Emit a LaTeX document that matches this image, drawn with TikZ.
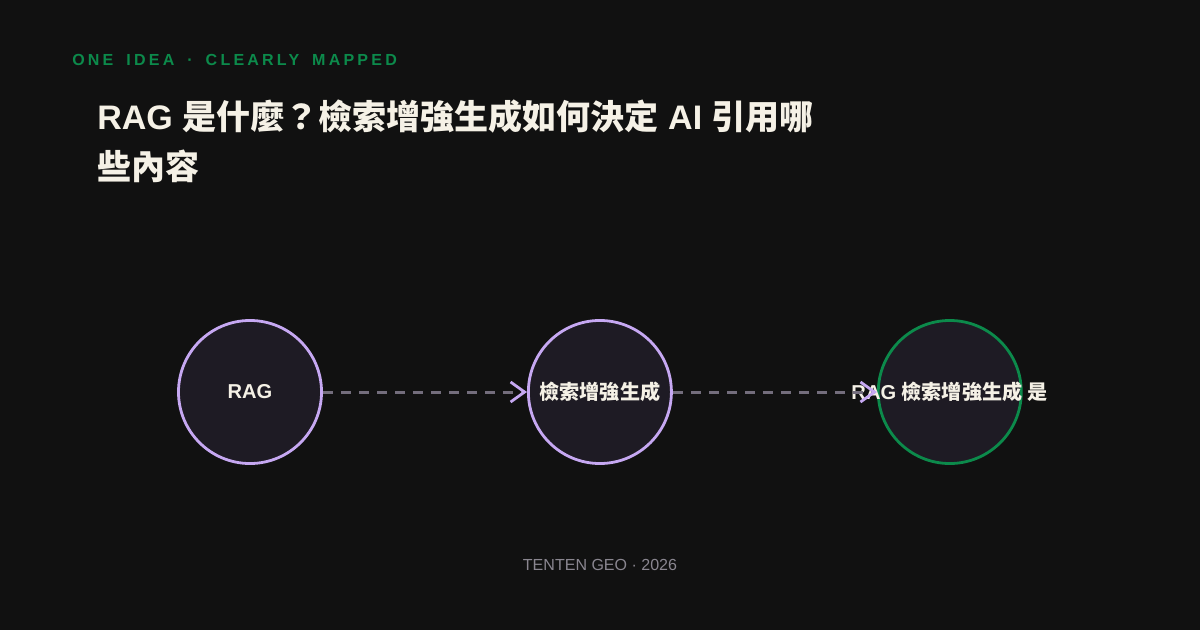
\documentclass[tikz,border=0pt]{standalone}
\usepackage{fontspec}
\setmainfont{Liberation Sans}
\newfontfamily\cjk{Noto Sans CJK TC}
\newfontfamily\tagfont{Liberation Sans}[LetterSpace=20, WordSpace=1.7]
\usetikzlibrary{
  arrows.meta,
  positioning
}
\definecolor{rgdark}{HTML}{111111}
\definecolor{rgnode}{HTML}{1E1B24}
\definecolor{rgcream}{HTML}{F5F1E6}
\definecolor{rglavender}{HTML}{C6A8F2}
\definecolor{rggreen}{HTML}{0C8A4B}
\definecolor{rgdash}{HTML}{736D7C}
\definecolor{rggray}{HTML}{8A8690}

\begin{document}
\begin{tikzpicture}[
      x=0.025cm, y=-0.025cm,
      stage/.style={
        circle, minimum size=3.575cm, inner sep=0pt,
        line width=0.07cm, draw=rglavender, fill=rgnode,
        font=\fontsize{14.3}{17}\selectfont\bfseries\color{rgcream}
      },
      goal/.style={stage, draw=rggreen},
      flow/.style={-{Straight Barb[length=0.35cm, width=0.5cm, line width=0.07cm, color=rglavender]},
        line width=0.075cm, rgdash, dash pattern=on 0.25cm off 0.2cm},
      tag/.style={font=\tagfont\fontsize{11.4}{14}\selectfont\bfseries\color{rggreen}, inner sep=0pt},
      heading/.style={font=\fontsize{24.2}{35}\selectfont\bfseries\color{rgcream}, align=left, inner sep=0pt},
      foot/.style={font=\fontsize{11.4}{14}\selectfont\color{rggray}, inner sep=0pt}
    ]
      \fill[rgdark] (0,0) rectangle (1200,630);
      \useasboundingbox (0,0) rectangle (1200,630);

      % header
      \node[tag, anchor=base west] (tagline) at (72,66) {ONE IDEA · CLEARLY MAPPED};
      \node[heading, anchor=north west] (title) at (97,100) {
        RAG {\cjk 是什麼？檢索增強生成如何決定} AI {\cjk 引用哪}\\
        {\cjk 些內容}
      };

      % flow
      \node[stage] (rag) at (250,392) {RAG};
      \node[stage, right=5.1cm of rag] (gen) {\cjk 檢索增強生成};
      \node[goal, right=5.1cm of gen] (cite) {\makebox[0pt]{RAG {\cjk 檢索增強生成} {\cjk 是}}};

      \draw[flow] (rag) -- (gen);
      \draw[flow] (gen) -- (cite);

      \node[foot, anchor=base] (footer) at (600,570) {TENTEN GEO · 2026};
    \end{tikzpicture}
\end{document}
